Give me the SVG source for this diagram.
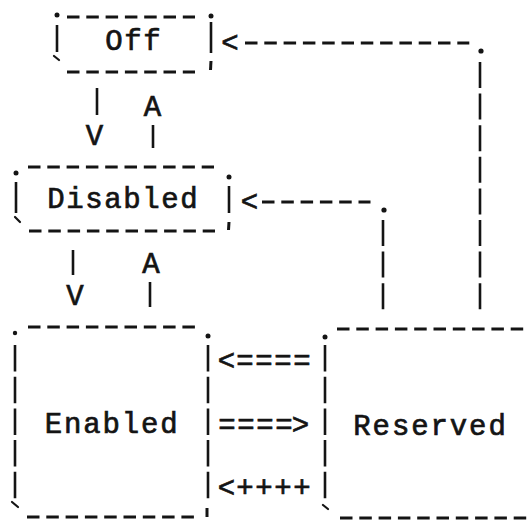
<svg xmlns="http://www.w3.org/2000/svg" width="530" height="521" viewBox="0 0 530 521">
<style>
.t{font-family:"Liberation Mono","DejaVu Sans Mono",monospace;font-size:29px;fill:#141414;stroke:#141414;stroke-width:0.7;text-anchor:middle}
.h{stroke:#141414;stroke-width:3;stroke-dasharray:12.5 6.8;fill:none}
.v{stroke:#141414;stroke-width:2.6;stroke-dasharray:26.5 5.2;fill:none}
.c{stroke:#141414;stroke-width:2.6;stroke-dasharray:26 5.6;fill:none}
.s{stroke:#141414;stroke-width:2.6;fill:none}
.k{stroke:#141414;stroke-width:2.2;stroke-linecap:round;fill:none}
.q{stroke:#141414;stroke-width:3;fill:none}
.p{fill:#141414}
</style>
<rect width="530" height="521" fill="#ffffff"/>
<g id="off">
<line class="h" x1="67" y1="17" x2="195" y2="17"/>
<line class="h" x1="67" y1="72" x2="195" y2="72"/>
<line class="s" x1="57" y1="25" x2="57" y2="52"/>
<line class="s" x1="211" y1="22" x2="211" y2="53"/>
<circle class="p" cx="57" cy="15" r="2.5"/>
<circle class="p" cx="211" cy="16" r="2.5"/>
<line class="k" x1="54" y1="56" x2="59" y2="60"/>
<line class="q" x1="211" y1="61" x2="210.5" y2="70"/>
<text class="t" x="114 133 152" y="50">Off</text>
</g>
<g id="disabled">
<line class="h" x1="28" y1="167" x2="214" y2="167"/>
<line class="h" x1="29" y1="231" x2="215" y2="231"/>
<line class="s" x1="16" y1="182" x2="16" y2="213"/>
<line class="s" x1="229" y1="186" x2="229" y2="213"/>
<circle class="p" cx="16" cy="173" r="2.5"/>
<circle class="p" cx="229" cy="177" r="2.5"/>
<line class="k" x1="15" y1="217" x2="20" y2="222"/>
<line class="q" x1="229" y1="222" x2="228.5" y2="230"/>
<text class="t" x="56 75 94 113 132 151 170 189" y="208">Disabled</text>
</g>
<g id="enabled">
<line class="h" x1="28" y1="327" x2="195" y2="327"/>
<line class="h" x1="27" y1="517" x2="194" y2="517"/>
<line class="v" x1="15" y1="345" x2="15" y2="499"/>
<line class="v" x1="208" y1="345" x2="208" y2="499"/>
<circle class="p" cx="15" cy="333" r="2.2"/>
<circle class="p" cx="208" cy="336" r="2.5"/>
<line class="k" x1="12" y1="502" x2="18" y2="507"/>
<line class="q" x1="207" y1="508" x2="207" y2="517"/>
<text class="t" x="53.5 72.75 92 111.25 130.5 149.75 169" y="433">Enabled</text>
</g>
<g id="reserved">
<line class="h" x1="337" y1="329" x2="530" y2="329"/>
<line class="h" x1="340" y1="518" x2="530" y2="518"/>
<line class="v" x1="325" y1="345" x2="325" y2="499"/>
<circle class="p" cx="325" cy="337" r="2.5"/>
<line class="k" x1="323" y1="505" x2="328" y2="509"/>
<text class="t" x="362 381.3 400.6 419.9 439.2 458.5 477.8 497.1" y="435">Reserved</text>
</g>
<g id="connectors">
<g id="reserved-to-off">
<line class="c" x1="480" y1="62" x2="480" y2="310"/>
<circle class="p" cx="481" cy="51" r="2.6"/>
<line class="h" x1="245" y1="43" x2="469.3" y2="43"/>
<text class="t" x="230" y="52">&lt;</text>
</g>
<g id="reserved-to-disabled">
<line class="c" x1="383" y1="220" x2="383" y2="310"/>
<circle class="p" cx="384" cy="210" r="2.6"/>
<line class="h" x1="262" y1="202" x2="370.5" y2="202"/>
<text class="t" x="249.5" y="211">&lt;</text>
</g>
<g id="off-to-disabled">
<line class="s" x1="97" y1="88" x2="97" y2="115"/>
<text class="t" x="94.5" y="145">V</text>
</g>
<g id="disabled-to-off">
<text class="t" x="152.5" y="116">A</text>
<line class="s" x1="153" y1="125" x2="153" y2="148"/>
</g>
<g id="disabled-to-enabled">
<line class="s" x1="73" y1="250" x2="73" y2="275"/>
<text class="t" x="75" y="305">V</text>
</g>
<g id="enabled-to-disabled">
<text class="t" x="151" y="273">A</text>
<line class="s" x1="150" y1="282" x2="150" y2="307"/>
</g>
<text class="t" x="226.5 245 264 283 302" y="370">&lt;====</text>
<text class="t" x="227 246 265 284 300.5" y="434">====&gt;</text>
<text class="t" x="226.5 245 264 283 302" y="497">&lt;++++</text>
</g>
</svg>
